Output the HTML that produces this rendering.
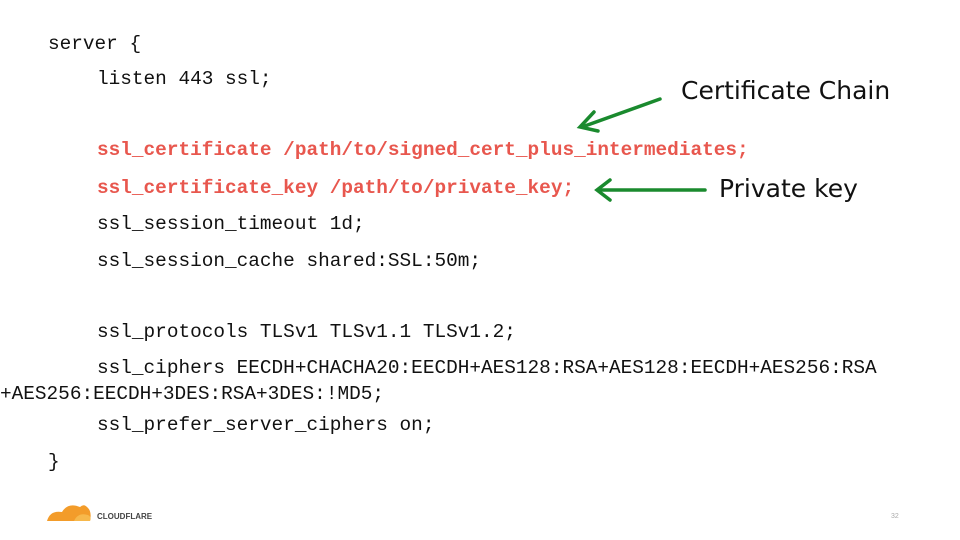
<!DOCTYPE html>
<html><head><meta charset="utf-8"><style>
body{margin:0;width:960px;height:540px;background:#fff;position:relative;overflow:hidden}
.l{position:absolute;font-family:"Liberation Mono",monospace;font-size:19.4px;color:#111;white-space:pre;line-height:20px}
.r{color:#e8574e;font-weight:bold}
.t{position:absolute;font-family:"DejaVu Sans","Liberation Sans",sans-serif;font-size:25px;color:#111;white-space:pre}
</style></head><body>
<div class="l" style="left:48px;top:34px">server {</div>
<div class="l" style="left:97px;top:69px">listen 443 ssl;</div>
<div class="l r" style="left:97px;top:140px">ssl_certificate /path/to/signed_cert_plus_intermediates;</div>
<div class="l r" style="left:97px;top:178px">ssl_certificate_key /path/to/private_key;</div>
<div class="l" style="left:97px;top:214px">ssl_session_timeout 1d;</div>
<div class="l" style="left:97px;top:251px">ssl_session_cache shared:SSL:50m;</div>
<div class="l" style="left:97px;top:322px">ssl_protocols TLSv1 TLSv1.1 TLSv1.2;</div>
<div class="l" style="left:97px;top:358px">ssl_ciphers EECDH+CHACHA20:EECDH+AES128:RSA+AES128:EECDH+AES256:RSA</div>
<div class="l" style="left:0px;top:384px">+AES256:EECDH+3DES:RSA+3DES:!MD5;</div>
<div class="l" style="left:97px;top:415px">ssl_prefer_server_ciphers on;</div>
<div class="l" style="left:48px;top:452px">}</div>
<div class="t" style="left:681px;top:76px">Certificate Chain</div>
<div class="t" style="left:719px;top:174px">Private key</div>
<svg width="960" height="540" style="position:absolute;left:0;top:0">
<g stroke="#1a8a2e" stroke-width="3.5" fill="none" stroke-linecap="round">
<line x1="660" y1="99" x2="582" y2="127"/>
<polyline points="594,112 580,127 598,131"/>
<line x1="705" y1="190" x2="598" y2="190"/>
<polyline points="610,180 597,190 610,200"/>
</g>
<path d="M47,521 Q50,510 62,512 Q68,502 80,507 Q84,503 88,508 Q92,512 90,521 Z" fill="#f39c2a"/>
<path d="M74,521 Q78,512 88,515 Q92,517 90,521Z" fill="#f7b84b"/>
<text x="97" y="519" font-family="Liberation Sans,sans-serif" font-size="8" fill="#444" font-weight="bold">CLOUDFLARE</text>
<text x="891" y="518" font-family="Liberation Sans,sans-serif" font-size="7" fill="#aaa">32</text>
</svg>
</body></html>
